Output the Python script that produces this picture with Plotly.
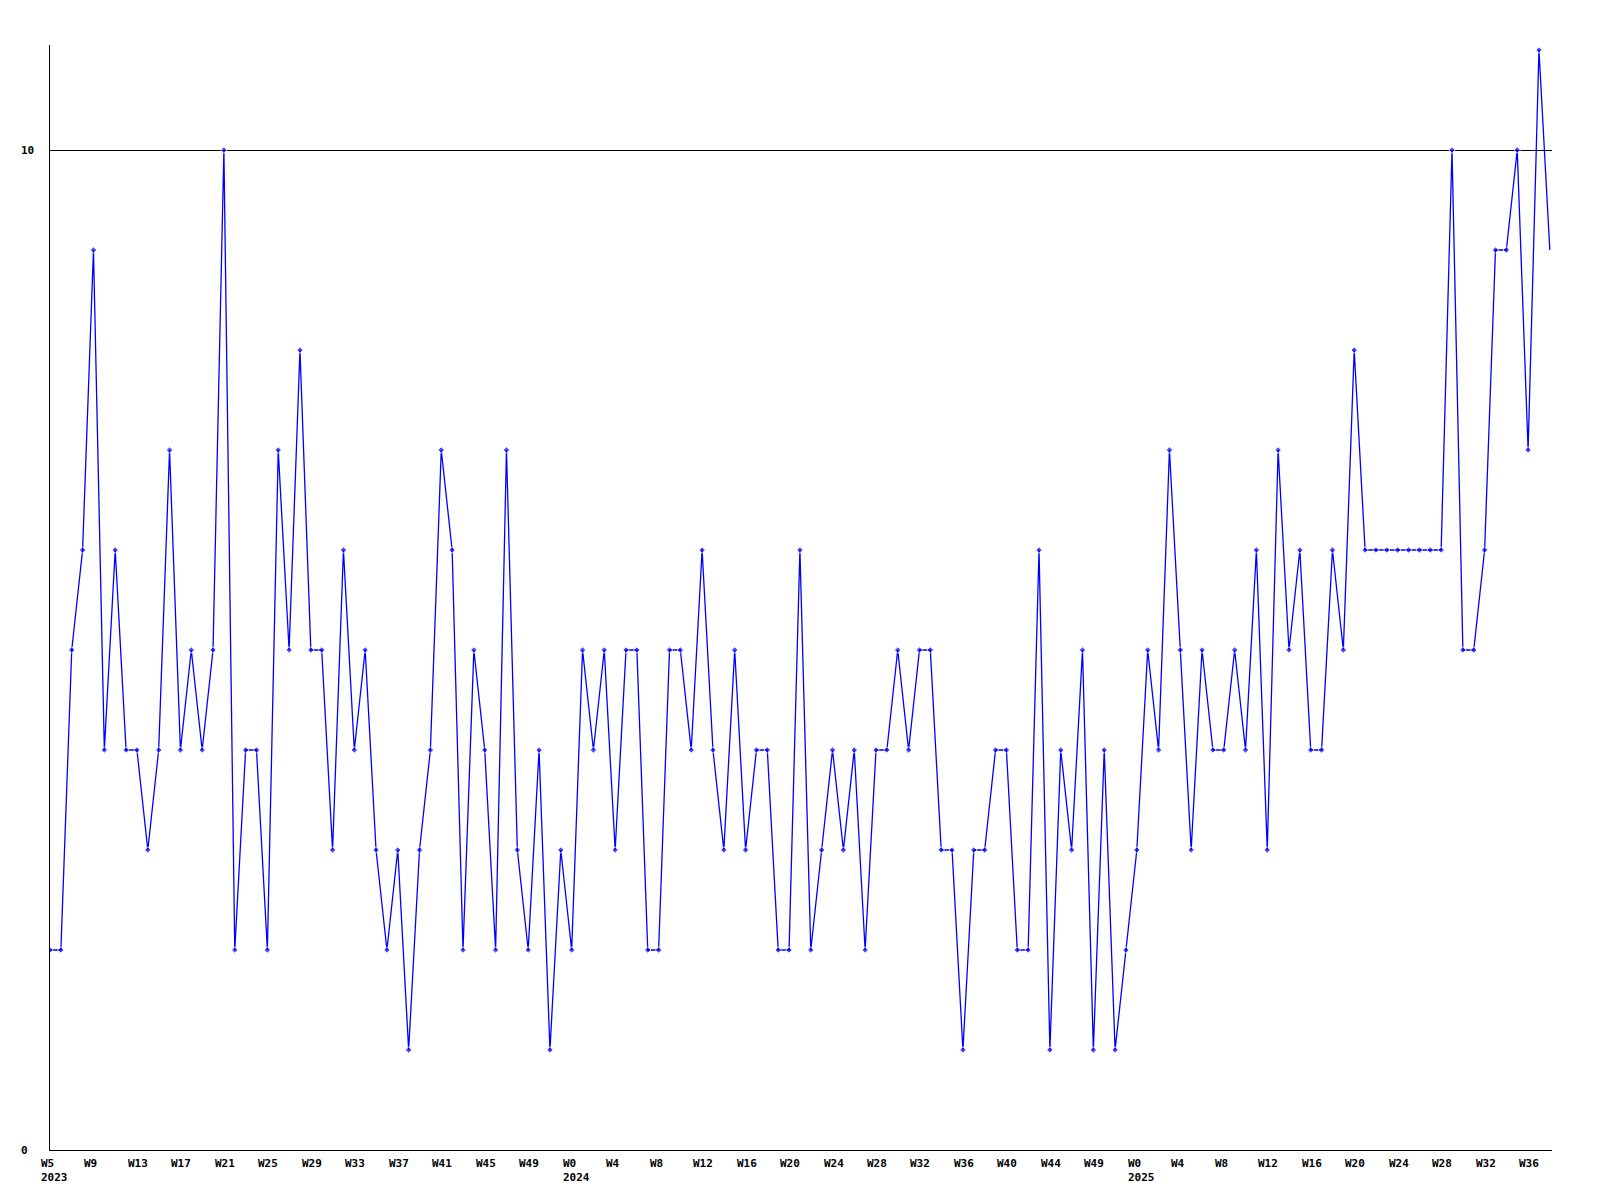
import plotly.graph_objects as go

# Weekly values, W5 2023 .. W38 2025
values = [2, 2, 5, 6, 9, 4, 6, 4, 4, 3,
          4, 7, 4, 5, 4, 5, 10, 2, 4, 4,
          2, 7, 5, 8, 5, 5, 3, 6, 4, 5,
          3, 2, 3, 1, 3, 4, 7, 6, 2, 5,
          4, 2, 7, 3, 2, 4, 1, 3, 2, 5,
          4, 5, 3, 5, 5, 2, 2, 5, 5, 4,
          6, 4, 3, 5, 3, 4, 4, 2, 2, 6,
          2, 3, 4, 3, 4, 2, 4, 4, 5, 4,
          5, 5, 3, 3, 1, 3, 3, 4, 4, 2,
          2, 6, 1, 4, 3, 5, 1, 4, 1, 2,
          3, 5, 4, 7, 5, 3, 5, 4, 4, 5,
          4, 6, 3, 7, 5, 6, 4, 4, 6, 5,
          8, 6, 6, 6, 6, 6, 6, 6, 6, 10,
          5, 5, 6, 9, 9, 10, 7, 11, 9]

# Tick labels, one every 4 weeks
tick_labels = ["W5", "W9", "W13", "W17", "W21", "W25", "W29", "W33", "W37", "W41", "W45", "W49",
               "W0", "W4", "W8", "W12", "W16", "W20", "W24", "W28", "W32", "W36", "W40", "W44", "W49",
               "W0", "W4", "W8", "W12", "W16", "W20", "W24", "W28", "W32", "W36"]
year_labels = {0: "2023", 12: "2024", 25: "2025"}
tick_step = 4

y_ticks = [0, 10]

x = list(range(len(values)))
marker_sizes = [5] * (len(values) - 1) + [0]

font = dict(family="DejaVu Sans Mono", size=11, color="black", weight="bold")

fig = go.Figure()
fig.add_trace(go.Scatter(
    x=x, y=values, mode="lines+markers",
    line=dict(color="#0000ff", width=1.3),
    marker=dict(symbol="diamond", size=marker_sizes, color="#0000ff"),
    hoverinfo="skip", showlegend=False,
))

annotations = []
for i, lab in enumerate(tick_labels):
    txt = lab
    if i in year_labels:
        txt = lab + "<br>" + year_labels[i]
    annotations.append(dict(
        x=i * tick_step, y=0, xref="x", yref="paper",
        xanchor="left", yanchor="top", xshift=-11, yshift=-5,
        text=txt, showarrow=False, align="left", font=font,
    ))
for v in y_ticks:
    annotations.append(dict(
        x=0, y=v, xref="paper", yref="y",
        xanchor="left", yanchor="middle", xshift=-31,
        text=str(v), showarrow=False, align="left", font=font,
    ))

fig.update_layout(
    width=1600, height=1200,
    margin=dict(l=42, r=56, t=37, b=58),
    paper_bgcolor="white", plot_bgcolor="white",
    xaxis=dict(range=[0, 138.2], showgrid=False, zeroline=False,
               showline=True, linecolor="black", linewidth=1,
               showticklabels=False, ticks=""),
    yaxis=dict(range=[0, 11.05], tickvals=y_ticks, showgrid=True,
               gridcolor="black", gridwidth=1, zeroline=False,
               showline=True, linecolor="black", linewidth=1,
               showticklabels=False, ticks=""),
    annotations=annotations,
)

fig.write_html("out.html")
